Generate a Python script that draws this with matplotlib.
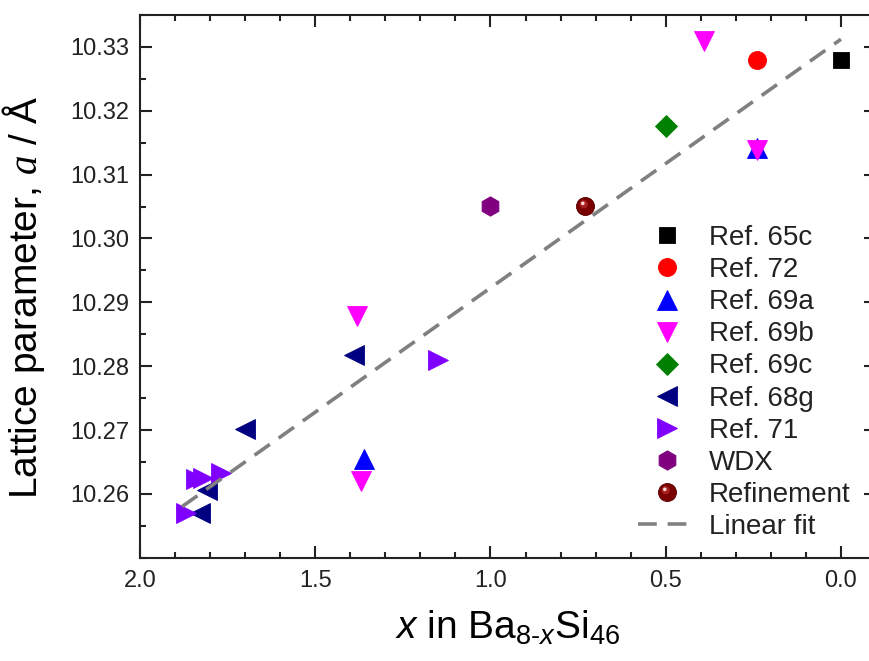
import numpy as np
import matplotlib
matplotlib.use("Agg")
import matplotlib.pyplot as plt
from matplotlib.path import Path
from matplotlib.markers import MarkerStyle
from matplotlib.legend_handler import HandlerTuple
from matplotlib.ticker import MultipleLocator, FormatStrFormatter

# ---------------- data ----------------
ref65c_x = [0.0]
ref65c_y = [10.3280]
ref72_x = [0.24]
ref72_y = [10.3280]
ref69a_x = [0.24, 1.36]
ref69a_y = [10.3142, 10.2655]
ref69b_x = [0.39, 0.24, 1.38, 1.37]
ref69b_y = [10.3309, 10.3138, 10.2878, 10.2620]
ref69c_x = [0.50]
ref69c_y = [10.3176]
ref68g_x = [1.39, 1.70, 1.81, 1.83]
ref68g_y = [10.2817, 10.2701, 10.2606, 10.2570]
ref71_x = [1.15, 1.87, 1.84, 1.82, 1.77]
ref71_y = [10.2810, 10.2570, 10.2624, 10.2625, 10.2632]
wdx_x = [1.00]
wdx_y = [10.3051]
refine_x = [0.73]
refine_y = [10.3051]
fit_x = [1.88, 0.0]
fit_y = [10.2580, 10.3312]

x_ticks = [2.0, 1.5, 1.0, 0.5, 0.0]
y_ticks = [10.25, 10.26, 10.27, 10.28, 10.29, 10.30, 10.31, 10.32, 10.33]

# ---------------- style ----------------
plt.rcParams['font.family'] = ['Liberation Sans', 'DejaVu Sans']
plt.rcParams['mathtext.fontset'] = 'custom'
plt.rcParams['mathtext.rm'] = 'Liberation Sans'
plt.rcParams['mathtext.it'] = 'Liberation Sans:italic'
plt.rcParams['mathtext.bf'] = 'Liberation Serif:italic'

fig = plt.figure(figsize=(8.70, 6.61), dpi=100)
ax = fig.add_axes([140 / 870, 1 - 557.7 / 661, 736 / 870, 542.7 / 661])

def mk(x, y, marker, color, ms, label):
    return ax.plot(x, y, linestyle='none', marker=marker, color=color,
                   markersize=ms, markeredgewidth=0.6, markeredgecolor=color,
                   label=label, zorder=3)[0]

h1 = mk(ref65c_x, ref65c_y, 's', 'black', 11, 'Ref. 65c')
h2 = mk(ref72_x, ref72_y, 'o', '#ff0000', 13, 'Ref. 72')
h3 = mk(ref69a_x, ref69a_y, '^', '#0000ff', 15, 'Ref. 69a')
h4 = mk(ref69b_x, ref69b_y, 'v', '#ff00ff', 15, 'Ref. 69b')
h5 = mk(ref69c_x, ref69c_y, 'D', '#008000', 11, 'Ref. 69c')
h6 = mk(ref68g_x, ref68g_y, '<', '#000080', 15, 'Ref. 68g')
h7 = mk(ref71_x, ref71_y, '>', '#8000ff', 15, 'Ref. 71')
h8 = mk(wdx_x, wdx_y, 'h', '#800080', 14, 'WDX')

# shaded sphere for refinement
def offset_dot(cx, cy, r):
    bounds = Path.make_compound_path(Path([(-1, -1)], [Path.MOVETO]),
                                     Path([(1, 1)], [Path.MOVETO]))
    return MarkerStyle(Path.make_compound_path(bounds, Path.circle((cx, cy), r)))

s0 = ax.plot(refine_x, refine_y, linestyle='none', marker='o', color='#7a0000',
             markersize=13, markeredgewidth=0.6, markeredgecolor='#5a0000', zorder=3)[0]
s1 = ax.plot(refine_x, refine_y, linestyle='none', marker=offset_dot(-0.2, 0.25, 0.45),
             color='#a82020', markersize=13, markeredgewidth=0, zorder=3.1)[0]
s2 = ax.plot(refine_x, refine_y, linestyle='none', marker=offset_dot(-0.3, 0.35, 0.2),
             color='#f4d8d8', markersize=13, markeredgewidth=0, zorder=3.2)[0]

hf, = ax.plot(fit_x, fit_y, color='#808080', linewidth=2.6, dashes=(5.2, 3.0),
              label='Linear fit', zorder=4)

ax.set_xlim(2.0, -0.1)
ax.set_ylim(10.25, 10.335)
ax.set_xticks(x_ticks)
ax.set_yticks(y_ticks[1:])
ax.xaxis.set_major_formatter(FormatStrFormatter('%.1f'))
ax.yaxis.set_major_formatter(FormatStrFormatter('%.2f'))
ax.xaxis.set_minor_locator(MultipleLocator(0.1))
ax.yaxis.set_minor_locator(MultipleLocator(0.005))
ax.tick_params(which='both', direction='in', top=True, right=True, width=1.5,
               labelsize=17, colors='#222222')
ax.tick_params(which='major', length=8.5)
ax.tick_params(which='minor', length=4.5)
ax.tick_params(axis='y', pad=8)
ax.tick_params(axis='x', pad=9)
for sp in ax.spines.values():
    sp.set_linewidth(1.5)
    sp.set_color('#222222')

ax.set_xlabel(r"$x$ in Ba$_{\text{8-}x}$Si$_{46}$", fontsize=28, labelpad=12)
ax.set_ylabel(r"Lattice parameter, $\mathbf{a}$ / Å", fontsize=28)
ax.yaxis.set_label_coords(-0.127, 0.48)

handles = [h1, h2, h3, h4, h5, h6, h7, h8, (s0, s1, s2), hf]
labels = ['Ref. 65c', 'Ref. 72', 'Ref. 69a', 'Ref. 69b', 'Ref. 69c', 'Ref. 68g',
          'Ref. 71', 'WDX', 'Refinement', 'Linear fit']
leg = ax.legend(handles, labels, loc='upper left',
                bbox_to_anchor=(638 / 870, 1 - 225 / 661),
                bbox_transform=fig.transFigure, frameon=False, fontsize=20,
                borderpad=0, borderaxespad=0, handlelength=2.1,
                handletextpad=0.45, labelspacing=0.22, numpoints=1,
                handler_map={tuple: HandlerTuple(ndivide=1, pad=0)})
for t in leg.get_texts():
    t.set_color('#222222')

fig.savefig('out.png', dpi=100)
